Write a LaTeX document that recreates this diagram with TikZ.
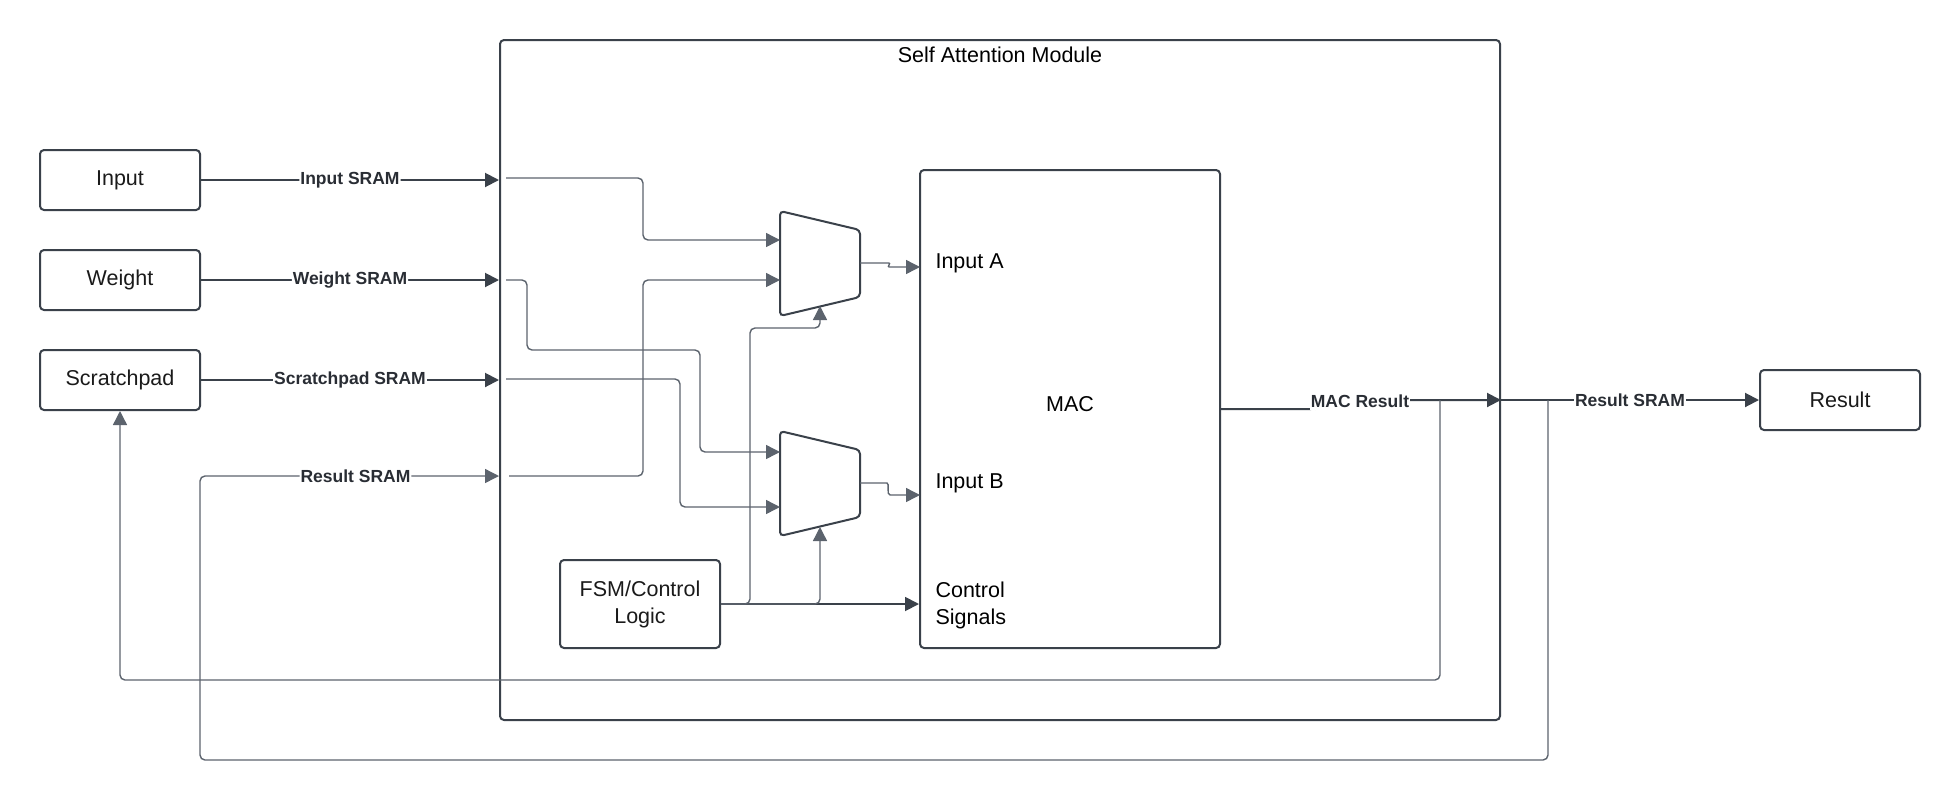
\documentclass[tikz,border=0pt]{standalone}
\usepackage{fontspec}
\setmainfont{Liberation Sans}
\usetikzlibrary{arrows.meta}
\definecolor{linea}{HTML}{3A414A}
\definecolor{filo}{HTML}{5C636D}
\definecolor{testo}{HTML}{1A1A1A}

\begin{document}
\begin{tikzpicture}[
  x=1pt, y=-1pt,
  font=\fontsize{21.5}{27}\selectfont,
  >={Triangle[length=14pt,width=14pt]},
  blockbox/.style={draw=linea, line width=2pt, rounded corners=4pt, align=center,
                   text=testo, inner sep=4pt},
  membox/.style={blockbox, fill=white, minimum width=160pt, minimum height=60pt},
  muxshape/.style={draw=linea, line width=2pt, rounded corners=4pt, fill=white},
  bus/.style={draw=linea, line width=2pt, rounded corners=5pt},
  wire/.style={draw=filo, line width=1.4pt, rounded corners=5pt},
  buslabel/.style={fill=white, inner sep=1pt, text=linea!70!black,
                   font=\bfseries\fontsize{17.5}{20}\selectfont}
]
\useasboundingbox (0,0) rectangle (1960,801);

% ---- modulo self attention -----------------------------------------
\node[blockbox, minimum width=1000pt, minimum height=680pt] (module) at (1000,380) {};
\node (title) at (1000,55) {Self Attention Module};

% ---- blocchi esterni ------------------------------------------------
\node[membox] (input)   at (120,180) {Input};
\node[membox] (weight)  at (120,280) {Weight};
\node[membox] (scratch) at (120,380) {Scratchpad};
\node[membox] (result)  at (1840,400) {Result};

% ---- blocchi interni ------------------------------------------------
\node[blockbox, minimum width=300pt, minimum height=478pt] (mac) at (1070,409) {};
\node (macname) at (1070,404) {MAC};
\node[blockbox, minimum width=160pt, minimum height=88pt] (fsm) at (640,604) {FSM/Control\\Logic};

\node[anchor=west] (inA)  at (932,263) {Input A};
\node[anchor=west] (inB)  at (932,483) {Input B};
\node[anchor=west, align=left] (ctrl) at (932,605) {Control\\Signals};

% ---- multiplexer ----------------------------------------------------
\draw[muxshape] (780,211) -- (860,230) -- (860,297) -- (780,316) -- cycle;
\draw[muxshape] (780,431) -- (860,450) -- (860,517) -- (780,536) -- cycle;

\coordinate (m1in1) at (780,240);
\coordinate (m1in2) at (780,280);
\coordinate (m1out) at (860,263);
\coordinate (m1sel) at (820,306);
\coordinate (m2in1) at (780,452);
\coordinate (m2in2) at (780,507);
\coordinate (m2out) at (860,483);
\coordinate (m2sel) at (820,527);
\coordinate (macA)  at (920,267);
\coordinate (macB)  at (920,495);

% porte interne del modulo
\coordinate (pIn) at (506,178);
\coordinate (pWt) at (506,280);
\coordinate (pSc) at (506,379);
\coordinate (pRs) at (509,476);

% prese sul bus del risultato
\coordinate (tapA) at (1440,400);
\coordinate (tapB) at (1548,400);

% ---- collegamenti esterni -------------------------------------------
\draw[bus,->] (input.east) -- node[buslabel] {Input SRAM} (module.west |- input.east);
\draw[bus,->] (weight.east) -- node[buslabel] {Weight SRAM} (module.west |- weight.east);
\draw[bus,->] (scratch.east) -- node[buslabel] {Scratchpad SRAM} (module.west |- scratch.east);

\draw[bus,->] (mac.east) -- (1316,409) -- (1316,400) -- (module.east |- tapA);
\node[buslabel, inner ysep=3pt] (macres) at (1360,401) {MAC Result};
\draw[bus,->] (module.east |- tapA) -- node[buslabel] {Result SRAM} (result.west);

% ritorni verso scratchpad e ingresso
\draw[wire,->] (tapA) -- (1440,680) -- (120,680) -- (scratch.south);
\draw[wire,->] (tapB) -- (1548,760) -- (200,760) -- (200,476)
  -- node[buslabel, pos=0.52] {Result SRAM} (module.west |- pRs);

% ---- collegamenti interni -------------------------------------------
\draw[wire,->] (pIn) -- (643,178) -- (643,240) -- (m1in1);
\draw[wire,->] (pRs) -- (643,476) -- (643,280) -- (m1in2);
\draw[wire,->] (pWt) -- (527,280) -- (527,350) -- (700,350) -- (700,452) -- (m2in1);
\draw[wire,->] (pSc) -- (680,379) -- (680,507) -- (m2in2);

\draw[wire,->] (m1out) -- (884,263) .. controls (891,263) and (887,267) .. (894,267) -- (macA);
\draw[wire,->] (m2out) -- (882,483) .. controls (890,483) and (886,495) .. (895,495) -- (macB);

% segnali di controllo
\draw[bus, line width=1.8pt, ->] (fsm.east) -- (mac.west |- fsm.east);
\draw[wire,->] (fsm.east) -- (750,604) -- (750,328) -- (820,328) -- (m1sel);
\draw[wire,->] (fsm.east) -- (820,604) -- (m2sel);

\end{tikzpicture}
\end{document}
